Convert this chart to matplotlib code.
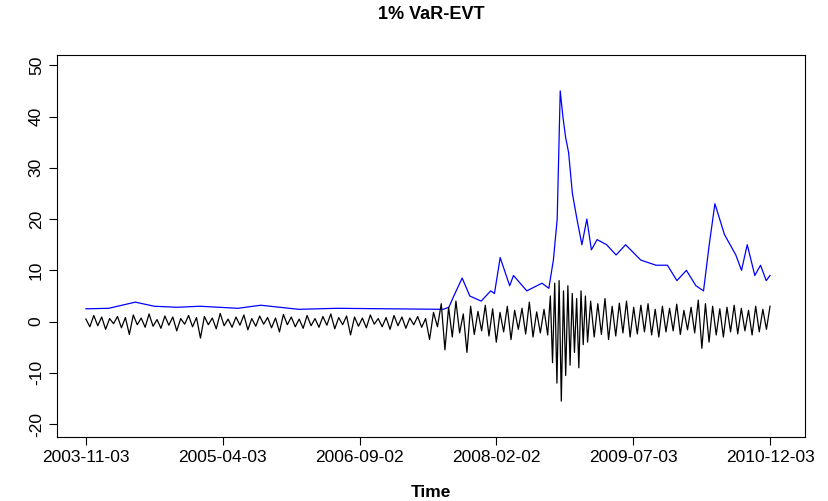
import matplotlib
matplotlib.use("Agg")
import matplotlib.pyplot as plt
import numpy as np

plt.rcParams['font.family'] = ['Liberation Sans', 'DejaVu Sans']

N = 1800
tick_labels = ["2003-11-03", "2005-04-03", "2006-09-02", "2008-02-02", "2009-07-03", "2010-12-03"]

# VaR (blue) key points: (observation index, value)
var_idx = [0, 60, 130, 180, 240, 300, 400, 460, 560, 660, 940, 955, 968, 990, 1010, 1040, 1065, 1075, 1090,
           1115, 1125, 1160, 1200, 1218, 1230, 1240, 1248, 1255, 1262, 1270, 1280, 1292, 1305, 1318, 1330,
           1345, 1370, 1395, 1420, 1460, 1500, 1530, 1555, 1580, 1605, 1625, 1640, 1655, 1680, 1710, 1725,
           1740, 1760, 1775, 1790, 1800]
var_val = [2.5, 2.6, 3.8, 3.0, 2.8, 3.0, 2.6, 3.2, 2.4, 2.6, 2.4, 2.8, 5.0, 8.5, 5.0, 4.0, 6.0, 5.5,
           12.5, 7.0, 9.0, 6.0, 7.5, 6.5, 12.0, 20.0, 45.0, 40.0, 36.0, 33.0, 25.0, 20.0, 15.0, 20.0, 14.0,
           16.0, 15.0, 13.0, 15.0, 12.0, 11.0, 11.0, 8.0, 10.0, 7.0, 6.0, 15.0, 23.0, 17.0, 13.0, 10.0,
           15.0, 9.0, 11.0, 8.0, 9.0]

# Returns (black), in four calm/volatile segments
ret_seg1 = [
 0.5,-1.0,1.2,-0.8,0.9,-1.5,0.6,-0.4,1.0,-1.2,0.8,-2.5,1.3,-0.6,0.7,-1.1,1.5,-0.9,0.4,-1.3,
 1.1,-0.7,0.9,-1.8,0.6,-0.5,1.2,-1.0,0.8,-3.2,1.0,-0.6,0.7,-1.4,1.6,-0.8,0.5,-1.1,0.9,-0.7,
 1.3,-1.6,0.6,-0.9,1.1,-0.5,0.8,-1.2,0.7,-2.0,1.4,-0.6,0.9,-1.0,0.5,-1.3,1.2,-0.8,0.6,-1.1,
 1.0,-0.7,1.5,-1.4,0.8,-0.6,1.1,-2.6,0.9,-0.9,0.7,-1.2,1.3,-0.5,0.6,-1.0,0.8,-1.5,1.2,-0.8,
 0.9,-1.3,0.7,-0.6,1.0,-1.1,0.6,-3.5,1.8,-1.0]
ret_seg2 = [
 3.5,-5.5,2.8,-3.0,4.0,-2.2,1.5,-6.0,3.0,-2.5,2.0,-1.8,3.2,-2.8,2.5,-4.0,1.8,-2.0,3.0,-3.5,
 2.2,-1.5,2.6,-2.4,3.8,-3.0,1.9,-2.2,2.4,-2.6]
ret_seg3 = [
 5.0,-8.0,7.5,-12.0,8.0,-15.5,6.0,-10.5,7.0,-8.5,5.5,-6.0,4.5,-9.0,6.0,-4.5,5.0,-4.0]
ret_seg4 = [
 4.0,-3.0,3.5,-2.5,4.5,-3.5,3.0,-2.8,3.6,-2.2,4.0,-3.0,2.8,-2.4,3.2,-2.0,3.5,-2.6,2.4,-3.0,
 3.0,-2.0,2.6,-1.8,3.4,-2.5,2.2,-1.6,2.8,-2.2,4.2,-5.2,3.5,-4.0,3.0,-2.6,2.5,-3.0,2.8,-2.0,
 3.2,-2.4,2.6,-1.8,2.2,-2.6,3.0,-2.0,2.4,-1.5,3.0]
seg_bounds = [(0, 925), (935, 1215), (1222, 1320), (1328, 1800)]

ret_val, ret_idx = [], []
for seg, (a, b) in zip([ret_seg1, ret_seg2, ret_seg3, ret_seg4], seg_bounds):
    ret_val += seg
    ret_idx += list(np.linspace(a, b, len(seg)))

fig = plt.figure(figsize=(8.29, 5.01), dpi=100)
ax = fig.add_axes([57/829, 1-437/501, (805-57)/829, (437-55)/501])
ax.plot(var_idx, var_val, color='blue', lw=0.9)
ax.plot(ret_idx, ret_val, color='black', lw=0.9)
ax.set_xlim(-76, 1892)
ax.set_ylim(-22.5, 52)
ax.set_xticks(np.linspace(0, N, 6))
ax.set_xticklabels(tick_labels, fontsize=12.5)
ax.set_yticks(range(-20, 51, 10))
ax.set_yticklabels([str(v) for v in range(-20, 51, 10)], fontsize=12.5, rotation=90, va='center')
ax.tick_params(direction='out', length=6)
ax.set_xlabel("Time", fontsize=12.5, fontweight='bold', labelpad=14)
ax.set_title("1% VaR-EVT", fontsize=13, fontweight='bold', pad=26)
fig.savefig("out.png", dpi=100)
